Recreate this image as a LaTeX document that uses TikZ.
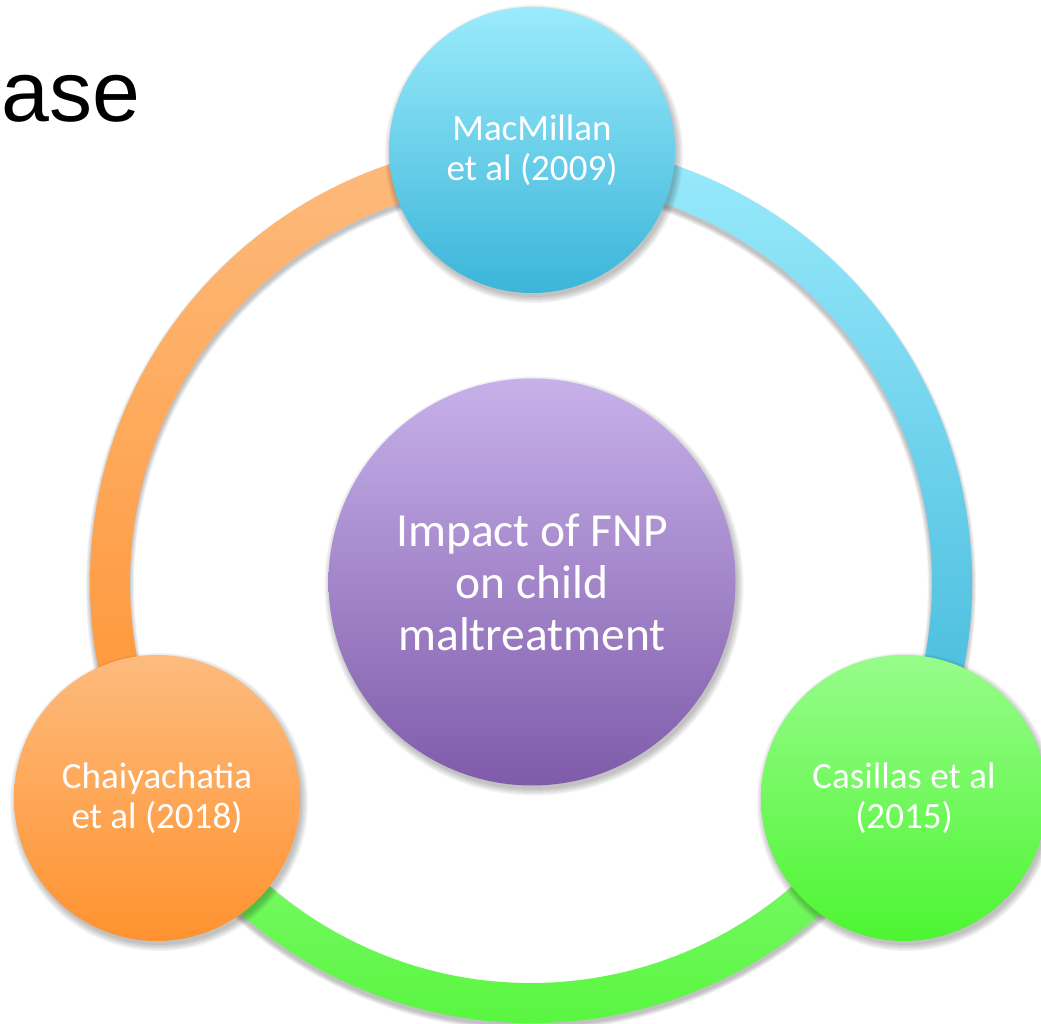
\documentclass[tikz,border=0pt]{standalone}
\usepackage{fontspec}
\setmainfont{Carlito}
\newfontfamily\arialfont{Liberation Sans}
\usetikzlibrary{calc}
\definecolor{macTop}{HTML}{9BEBFC}
\definecolor{macBot}{HTML}{3BB5D9}
\definecolor{cenTop}{HTML}{C7B1EA}
\definecolor{cenBot}{HTML}{7F5BAA}
\definecolor{chaTop}{HTML}{FDBB7E}
\definecolor{chaBot}{HTML}{FF922F}
\definecolor{casTop}{HTML}{97FC8B}
\definecolor{casBot}{HTML}{4DF531}
\definecolor{grnArcTop}{HTML}{86FA77}
\definecolor{grnArcBot}{HTML}{4EF532}
\tikzset{
  bubble/.style={circle, inner sep=0pt, minimum size=286pt, text=white, align=center,
                 font=\fontsize{37}{40}\selectfont},
  hub/.style={circle, inner sep=0pt, minimum size=407pt, text=white, align=center,
              font=\fontsize{47.5}{52}\selectfont},
  softshadow/.style={black, opacity=0.05},
}
\begin{document}
\begin{tikzpicture}[x=1pt,y=1pt]
\useasboundingbox (0,0) rectangle (1041,1024);
\fill[white] (0,0) rectangle (1041,1024);
\coordinate (rc) at (531,442);

% title fragment
\node[anchor=base west, inner sep=0pt, font=\arialfont\fontsize{86}{90}\selectfont] (title) at (1,902) {ase};

% ring shadow
\foreach \w in {0,2,4,6,8}
  \draw[softshadow, line width={40pt+\w pt}] ($(rc)+(0,-4)$) circle[radius=421];

% ring arcs
\shade[top color=chaTop, bottom color=chaBot]
  ($(rc)+(90:441)$) arc[start angle=90, end angle=210, radius=441]
  -- ($(rc)+(210:401)$) arc[start angle=210, end angle=90, radius=401] -- cycle;
\shade[top color=macTop, bottom color=macBot]
  ($(rc)+(-30:441)$) arc[start angle=-30, end angle=90, radius=441]
  -- ($(rc)+(90:401)$) arc[start angle=90, end angle=-30, radius=401] -- cycle;
\shade[top color=grnArcTop, bottom color=grnArcBot]
  ($(rc)+(210:441)$) arc[start angle=210, end angle=330, radius=441]
  -- ($(rc)+(330:401)$) arc[start angle=330, end angle=210, radius=401] -- cycle;

% circle shadows
\foreach \c/\r in {{532,442}/203.5, {532,874}/143, {157,226}/143, {904,226}/143}{
  \foreach \k in {0,1.5,3,4.5,6}
    \fill[softshadow] ($(\c)+(2,-4)$) circle[radius={\r+\k}];
}

% circles
\node[hub, top color=cenTop, bottom color=cenBot] (impact) at (532,442)
  {Impact of FNP\\on child\\maltreatment};
\node[bubble, top color=macTop, bottom color=macBot] (mac) at (532,874)
  {MacMillan\\et al (2009)};
\node[bubble, top color=chaTop, bottom color=chaBot] (cha) at (157,226)
  {Chaiyachatia\\et al (2018)};
\node[bubble, top color=casTop, bottom color=casBot] (cas) at (904,226)
  {Casillas et al\\(2015)};
\end{tikzpicture}
\end{document}
